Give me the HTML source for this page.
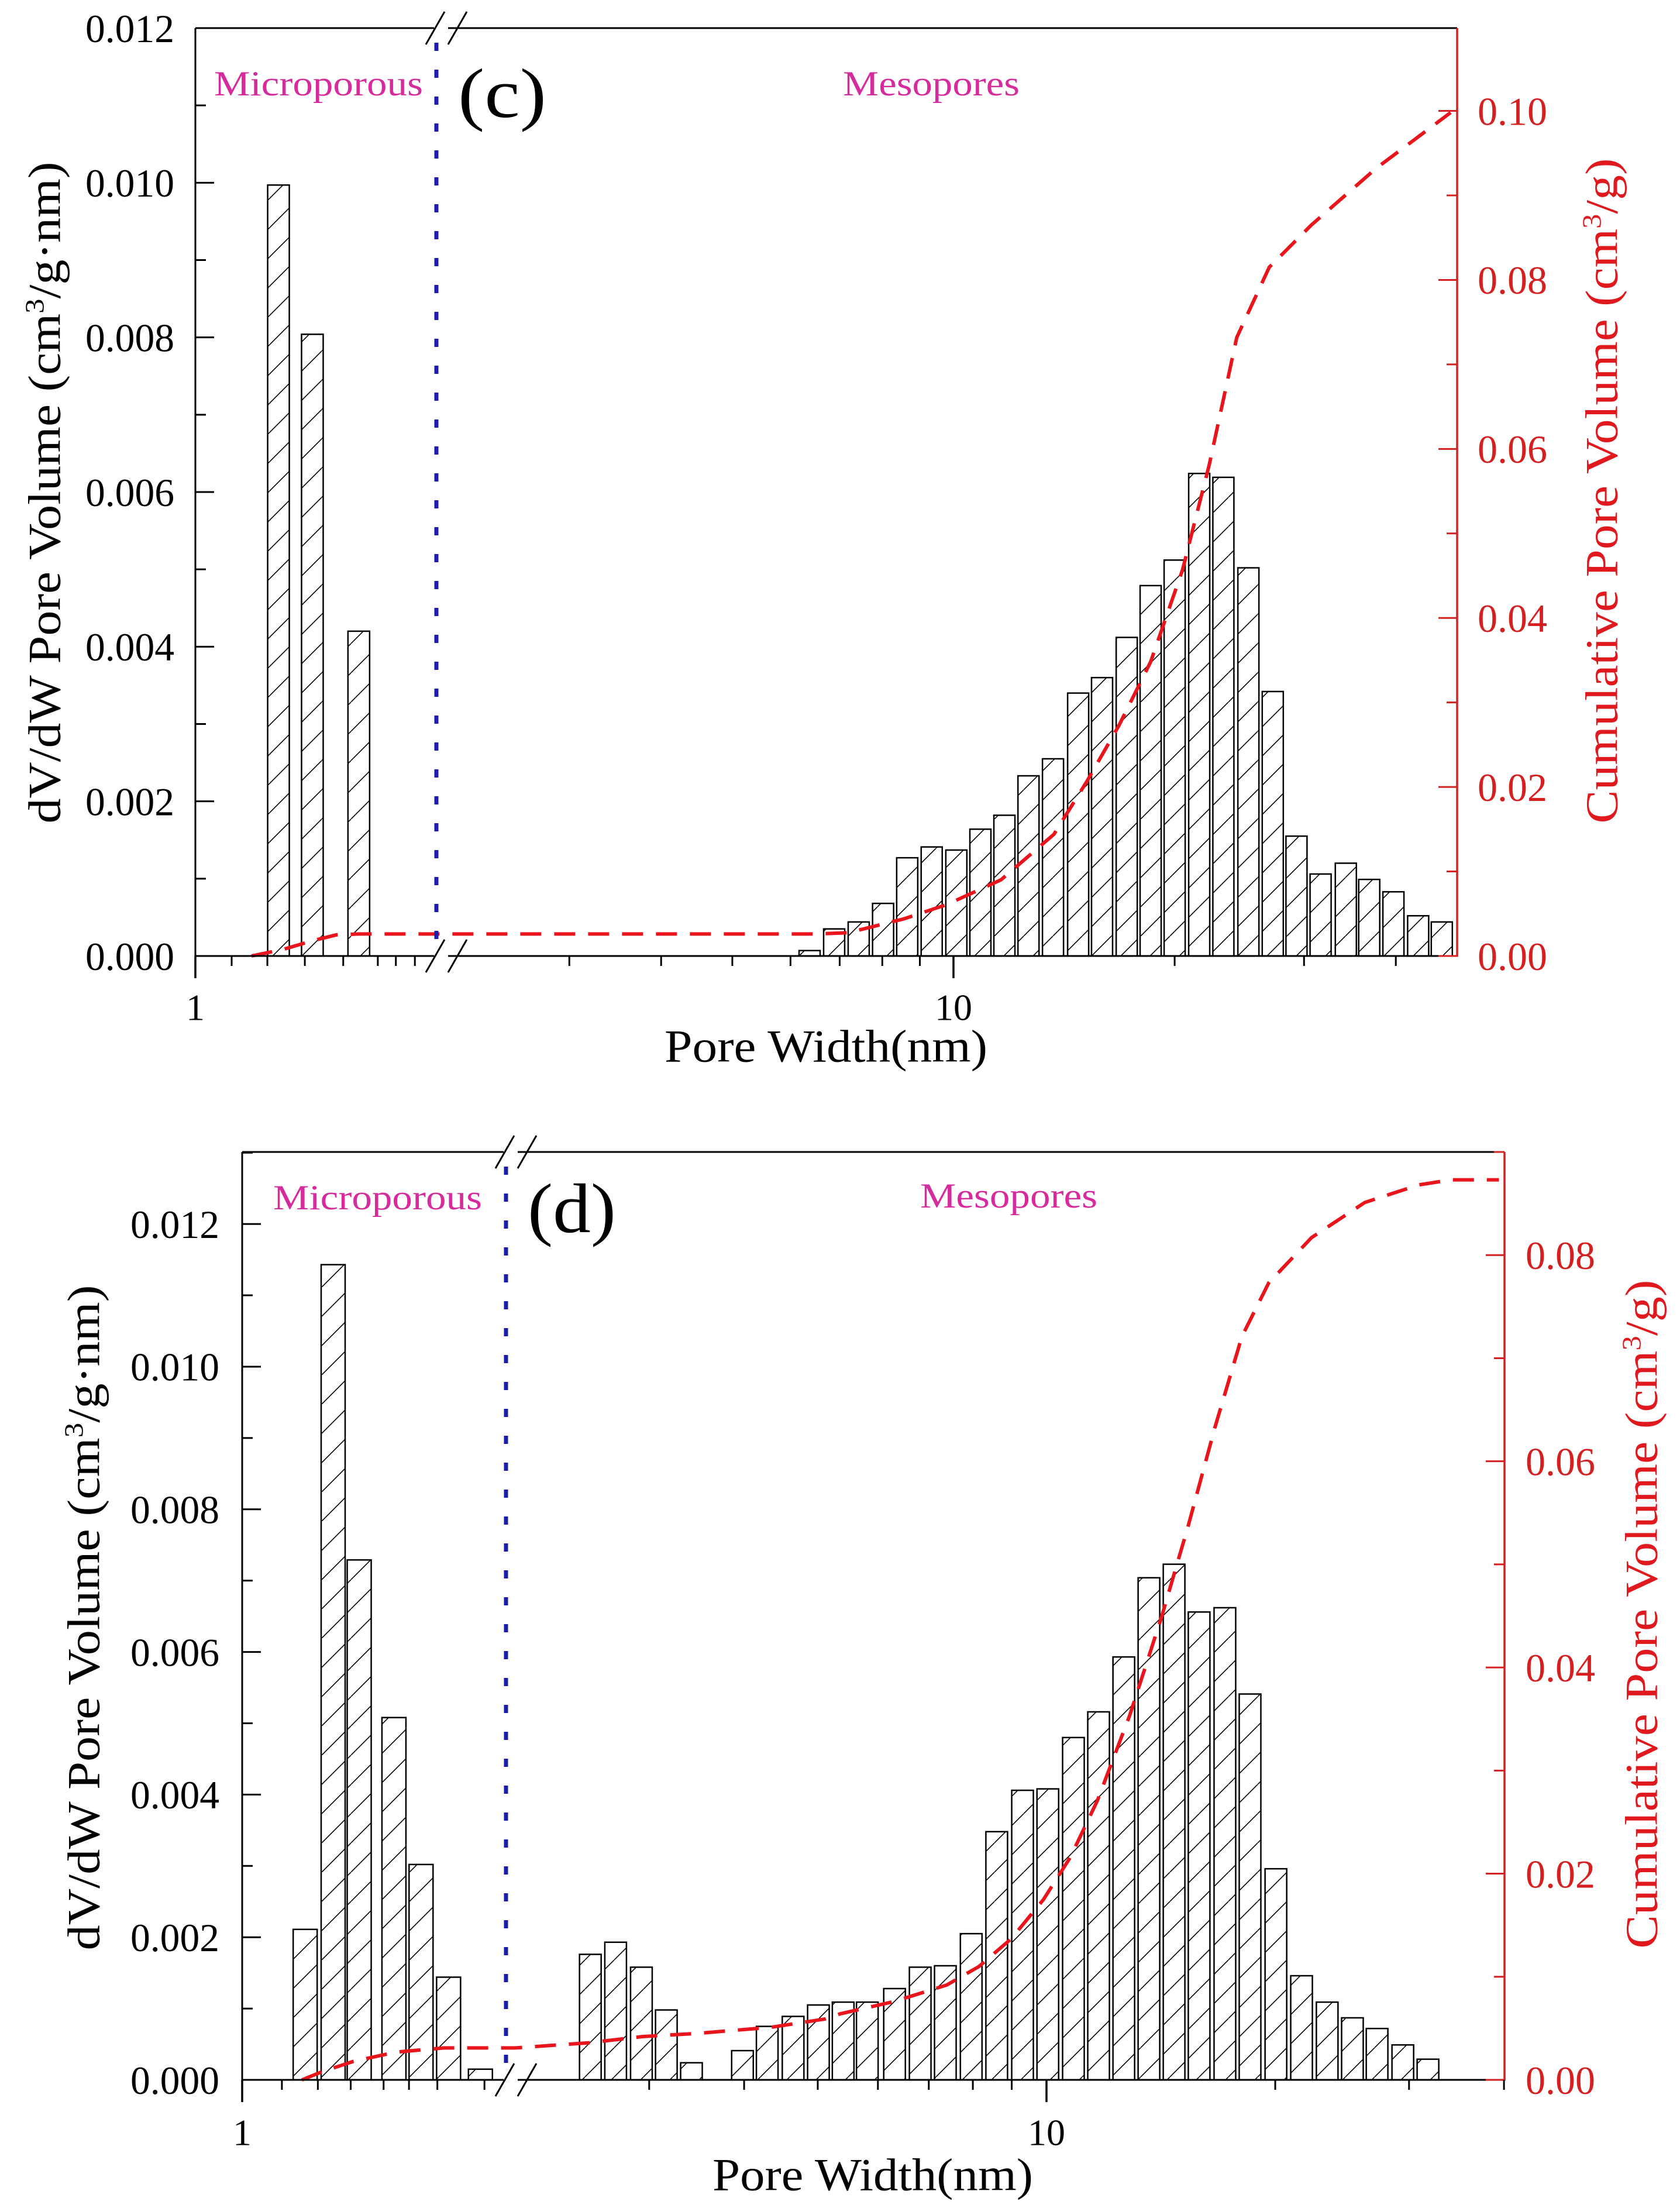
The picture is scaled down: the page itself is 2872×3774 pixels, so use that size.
<!DOCTYPE html>
<html><head><meta charset="utf-8"><style>
html,body{margin:0;padding:0;background:#fff;}
svg{display:block;font-family:"Liberation Serif",serif;}
</style></head><body>
<svg id="chart" xmlns="http://www.w3.org/2000/svg" width="2872" height="3774" viewBox="0 0 2872 3774">
<defs>
<pattern id="hatch" patternUnits="userSpaceOnUse" width="50" height="50">
<line x1="0" y1="50" x2="50" y2="0" stroke="#000" stroke-width="1.6"/>
<line x1="-50" y1="50" x2="0" y2="0" stroke="#000" stroke-width="1.6"/>
<line x1="50" y1="50" x2="100" y2="0" stroke="#000" stroke-width="1.6"/>
</pattern>
</defs>
</svg>
<script>
// ---- Panel (c) data ----
const cMicroWidth=[1.27,1.40,1.60];
const cMicroVal=[0.00997,0.00804,0.0042];
const cMesoWidth=[6.37,6.88,7.43,8.02,8.65,9.34,10.09,10.88,11.73,12.65,13.66,14.78,15.93,17.21,18.55,20.0,21.6,23.3,25.2,27.2,29.3,31.6,34.2,36.8,39.7,42.9,46.2];
const cMesoVal=[0.00007,0.00035,0.00044,0.00068,0.00127,0.00141,0.00137,0.00164,0.00182,0.00233,0.00255,0.0034,0.0036,0.00412,0.00479,0.00512,0.00624,0.00619,0.00502,0.00342,0.00155,0.00106,0.0012,0.00099,0.00083,0.00052,0.00044];
const cCumWidth=[1.175,1.29,1.40,1.50,1.6,2.0,6.5,7.19,8.57,9.80,11.6,13.7,15.2,16.8,18.55,20.5,22.3,24.3,26.9,30.7,37.6,47.5];
const cCumVal=[0,0.0008,0.0018,0.0025,0.0026,0.0026,0.0026,0.00275,0.0044,0.0061,0.009,0.0144,0.0207,0.0273,0.0348,0.0457,0.0582,0.0732,0.0815,0.0865,0.0932,0.0998];
const cLeftTicks=[0,0.002,0.004,0.006,0.008,0.010,0.012];
const cLeftLabels=["0.000","0.002","0.004","0.006","0.008","0.010","0.012"];
const cRightTicks=[0,0.02,0.04,0.06,0.08,0.10];
const cRightLabels=["0.00","0.02","0.04","0.06","0.08","0.10"];
const cXMinorLeft=[1.11,1.23,1.37,1.53,1.69,1.78,1.88];
// ---- Panel (d) data ----
const dMicroWidth=[1.18,1.27,1.36,1.49,1.60,1.72,1.87];
const dMicroVal=[0.00211,0.01143,0.00729,0.00508,0.00302,0.00144,0.00015];
const dMesoWidth=[2.51,2.71,2.93,3.16,3.41,3.98,4.29,4.64,5.01,5.40,5.81,6.31,6.82,7.36,7.96,8.60,9.30,10.04,10.85,11.71,12.64,13.64,14.72,15.88,17.17,18.53,20.04,21.66,23.41,25.27,27.23,29.44,31.77];
const dMesoVal=[0.00176,0.00193,0.00158,0.00098,0.00024,0.00041,0.00075,0.00089,0.00105,0.00109,0.00109,0.00128,0.00158,0.0016,0.00205,0.00348,0.00406,0.00408,0.0048,0.00516,0.00593,0.00704,0.00723,0.00656,0.00662,0.00541,0.00296,0.00146,0.00109,0.00087,0.00072,0.00049,0.00029];
const dCumWidth=[1.17,1.23,1.34,1.50,1.70,2.0,2.50,2.94,3.46,4.34,5.11,5.35,6.30,7.39,8.15,8.99,9.91,10.75,11.67,12.86,14.16,15.36,16.66,18.08,19.61,22.33,26.24,30.87,34.04,39.4];
const dCumVal=[0,0.00075,0.0018,0.0027,0.0031,0.0031,0.0036,0.0042,0.0045,0.0051,0.0059,0.0064,0.0076,0.0092,0.011,0.0137,0.0175,0.0216,0.0271,0.0353,0.0448,0.0537,0.0633,0.0721,0.0773,0.0817,0.0851,0.0868,0.0873,0.0873];
const dLeftTicks=[0,0.002,0.004,0.006,0.008,0.010,0.012];
const dLeftLabels=["0.000","0.002","0.004","0.006","0.008","0.010","0.012"];
const dRightTicks=[0,0.02,0.04,0.06,0.08];
const dRightLabels=["0.00","0.02","0.04","0.06","0.08"];
const dXMinorLeft=[1.11,1.22,1.33,1.45,1.55,1.67,1.89];
const xMinorRight=[3,4,5,6,7,8,9,20,30,40];
const xMajor=[1,10];
const xMajorLabels=["1","10"];

const NS="http://www.w3.org/2000/svg";
const svg=document.getElementById('chart');
function mk(tag,attrs,parent,text){const e=document.createElementNS(NS,tag);for(const k in attrs)e.setAttribute(k,attrs[k]);if(text!==undefined)e.textContent=text;(parent||svg).appendChild(e);return e;}

function panel(p){
  const g=mk('g',{});
  
  
  const xs=v=>v<2? p.left+Math.log10(v)/Math.log10(2)*(p.brkPx-p.left) : p.x10+(Math.log10(v)-1)*p.dec;
  const yl=v=>p.bottom-v/p.lMax*(p.bottom-p.top);
  const yr=v=>p.bottom-v/p.rMax*(p.bottom-p.top);
  function bars(W,V,bw,nm){
    for(let i=0;i<W.length;i++){
      const x=xs(W[i]),y=yl(V[i]);
      const r=mk('rect',{x:x-bw/2,y:y,width:bw,height:p.bottom-y,fill:'url(#hatch)',stroke:'#000','stroke-width':2.5},g);
      
      
    }
  }
  bars(p.microW,p.microV,p.microBw,p.id+'-micro');
  bars(p.mesoW,p.mesoV,p.mesoBw,p.id+'-meso');
  let d='';
  for(let i=0;i<p.cumW.length;i++){d+=(i?'L':'M')+xs(p.cumW[i]).toFixed(1)+','+yr(p.cumV[i]).toFixed(1);}
  const cl=mk('path',{d:d,fill:'none',stroke:'#e8161c','stroke-width':6,'stroke-dasharray':'36 22'},g);
  
  
  const sep=mk('line',{x1:p.brkPx,y1:p.top+25,x2:p.brkPx,y2:p.bottom,stroke:'#1c1caa','stroke-width':7,'stroke-dasharray':'14 32'},g);
  
  
  mk('line',{x1:p.left,y1:p.top,x2:p.right,y2:p.top,stroke:'#000','stroke-width':3},g);
  mk('line',{x1:p.left,y1:p.bottom,x2:p.right,y2:p.bottom,stroke:'#000','stroke-width':3},g);
  const la=mk('line',{x1:p.left,y1:p.top,x2:p.left,y2:p.bottom+1.5,stroke:'#000','stroke-width':3},g);
  
  
  const ra=mk('line',{x1:p.right,y1:p.top,x2:p.right,y2:p.bottom+1.5,stroke:'#d42020','stroke-width':3.5},g);
  
  
  [p.top,p.bottom].forEach(yy=>{
    mk('rect',{x:p.brkPx-4,y:yy-4,width:24,height:8,fill:'#fff'},g);
    mk('line',{x1:p.brkPx-18,y1:yy+28,x2:p.brkPx+14,y2:yy-28,stroke:'#000','stroke-width':3},g);
    mk('line',{x1:p.brkPx+20,y1:yy+28,x2:p.brkPx+52,y2:yy-28,stroke:'#000','stroke-width':3},g);
  });
  for(let v=0.001;v<p.lMax+1e-9;v+=0.002){mk('line',{x1:p.left,y1:yl(v),x2:p.left+18,y2:yl(v),stroke:'#000','stroke-width':3},g);}
  p.lTicks.forEach((v,i)=>{
    mk('line',{x1:p.left,y1:yl(v),x2:p.left+32,y2:yl(v),stroke:'#000','stroke-width':3},g);
    const t=mk('text',{x:p.lLabelX,y:yl(v),dy:'0.35em','text-anchor':'end','font-size':68,textLength:152,lengthAdjust:'spacingAndGlyphs',fill:'#000'},g,p.lLabels[i]);
    
    
  });
  for(let v=0.01;v<p.rMax+1e-9;v+=0.02){mk('line',{x1:p.right-18,y1:yr(v),x2:p.right,y2:yr(v),stroke:'#d42020','stroke-width':3},g);}
  p.rTicks.forEach((v,i)=>{
    mk('line',{x1:p.right-32,y1:yr(v),x2:p.right,y2:yr(v),stroke:'#d42020','stroke-width':3},g);
    const t=mk('text',{x:p.rLabelX,y:yr(v),dy:'0.35em','font-size':68,textLength:119,lengthAdjust:'spacingAndGlyphs',fill:'#d42020'},g,p.rLabels[i]);
    
    
  });
  p.xMinorLeft.concat(xMinorRight).forEach(v=>{if(xs(v)<p.right) mk('line',{x1:xs(v),y1:p.bottom,x2:xs(v),y2:p.bottom+17,stroke:'#000','stroke-width':3},g);});
  xMajor.forEach((v,i)=>{
    mk('line',{x1:xs(v),y1:p.bottom,x2:xs(v),y2:p.bottom+38,stroke:'#000','stroke-width':3.5},g);
    const t=mk('text',{x:xs(v),y:p.xLabelY,dy:'0.35em','text-anchor':'middle','font-size':64,fill:'#000'},g,xMajorLabels[i]);
    
    
  });
  return g;
}

panel({id:'c',left:334,right:2491,top:48,bottom:1634,brkPx:746,x10:1630,dec:1256,lMax:0.012,rMax:0.1098,
  microW:cMicroWidth,microV:cMicroVal,microBw:37,mesoW:cMesoWidth,mesoV:cMesoVal,mesoBw:36,cumW:cCumWidth,cumV:cCumVal,
  lTicks:cLeftTicks,lLabels:cLeftLabels,rTicks:cRightTicks,rLabels:cRightLabels,xMinorLeft:cXMinorLeft,lLabelX:298,rLabelX:2526,xLabelY:1721});
panel({id:'d',left:414,right:2572,top:1969,bottom:3555,brkPx:865,x10:1789,dec:1299,lMax:0.01301,rMax:0.0900,
  microW:dMicroWidth,microV:dMicroVal,microBw:41,mesoW:dMesoWidth,mesoV:dMesoVal,mesoBw:37,cumW:dCumWidth,cumV:dCumVal,
  lTicks:dLeftTicks,lLabels:dLeftLabels,rTicks:dRightTicks,rLabels:dRightLabels,xMinorLeft:dXMinorLeft,lLabelX:375,rLabelX:2608,xLabelY:3644});
</script>
<svg style="position:absolute;left:0;top:0" width="2872" height="3774" xmlns="http://www.w3.org/2000/svg" font-family="Liberation Serif, serif">
<text x="366" y="142" dy="0.35em" font-size="60" fill="#d62b9c" textLength="357" lengthAdjust="spacingAndGlyphs">Microporous</text>
<text x="783" y="158" dy="0.35em" font-size="120" fill="#000" textLength="151" lengthAdjust="spacingAndGlyphs">(c)</text>
<text x="1441" y="142" dy="0.35em" font-size="60" fill="#d62b9c" textLength="302" lengthAdjust="spacingAndGlyphs">Mesopores</text>
<text x="1412" y="1787" dy="0.35em" text-anchor="middle" font-size="78" fill="#000" textLength="552" lengthAdjust="spacingAndGlyphs">Pore Width(nm)</text>
<text transform="translate(75,842) rotate(-90)" dy="0.35em" text-anchor="middle" font-size="78" fill="#000" textLength="1131" lengthAdjust="spacingAndGlyphs">dV/dW Pore Volume (cm<tspan font-size="46" dy="-28">3</tspan><tspan dy="28">/g·nm)</tspan></text>
<text transform="translate(2737,839) rotate(-90)" dy="0.35em" text-anchor="middle" font-size="78" fill="#e0191e" textLength="1137" lengthAdjust="spacingAndGlyphs">Cumulative Pore Volume (cm<tspan font-size="46" dy="-28">3</tspan><tspan dy="28">/g)</tspan></text>
<text x="467" y="2046" dy="0.35em" font-size="60" fill="#d62b9c" textLength="357" lengthAdjust="spacingAndGlyphs">Microporous</text>
<text x="902" y="2064" dy="0.35em" font-size="120" fill="#000" textLength="151" lengthAdjust="spacingAndGlyphs">(d)</text>
<text x="1573" y="2043" dy="0.35em" font-size="60" fill="#d62b9c" textLength="303" lengthAdjust="spacingAndGlyphs">Mesopores</text>
<text x="1492" y="3716" dy="0.35em" text-anchor="middle" font-size="78" fill="#000" textLength="548" lengthAdjust="spacingAndGlyphs">Pore Width(nm)</text>
<text transform="translate(142,2765) rotate(-90)" dy="0.35em" text-anchor="middle" font-size="78" fill="#000" textLength="1137" lengthAdjust="spacingAndGlyphs">dV/dW Pore Volume (cm<tspan font-size="46" dy="-28">3</tspan><tspan dy="28">/g·nm)</tspan></text>
<text transform="translate(2805,2759) rotate(-90)" dy="0.35em" text-anchor="middle" font-size="78" fill="#e0191e" textLength="1143" lengthAdjust="spacingAndGlyphs">Cumulative Pore Volume (cm<tspan font-size="46" dy="-28">3</tspan><tspan dy="28">/g)</tspan></text>
</svg>
</body></html>
